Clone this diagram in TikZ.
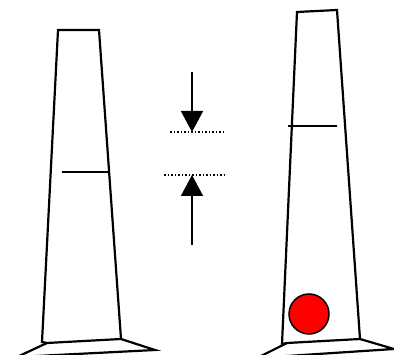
\documentclass[tikz,border=0pt]{standalone}
\usetikzlibrary{arrows.meta}
\begin{document}
\begin{tikzpicture}[x=1pt,y=-1pt,
  tower/.style={line width=2.2pt,line join=miter},
  mark line/.style={line width=1.9pt},
  push/.style={line width=1.7pt,-{Triangle[width=22pt,length=21pt]}},
  level/.style={line width=1.5pt,dotted}]
\useasboundingbox (0,0) rectangle (394,355);
\clip (0,0) rectangle (394,355);
% left tower
\draw[tower] (42,342) -- (58,30) -- (99,30) -- (121,339) -- (47,343) -- cycle;
\draw[tower] (47,343) -- (17,357) -- (155,350) -- (121,339);
\draw[mark line] (62,172) -- (109,172);
% right tower
\draw[tower] (282,344) -- (297,12) -- (337,10) -- (360,339) -- (287,343) -- cycle;
\draw[tower] (287,343) -- (257,358) -- (394,349) -- (360,339);
\draw[mark line] (288,126) -- (337,126);
\draw[line width=1.5pt,fill=red] (309,314) circle (20);
% arrows
\coordinate (a1) at (192,72);
\coordinate (t1) at (192,132);
\coordinate (a2) at (192,245);
\coordinate (t2) at (192,175);
\draw[push] (a1) -- (t1);
\draw[push] (a2) -- (t2);
\draw[level] (170,132) -- (224,132);
\draw[level] (164,175) -- (226,175);
\end{tikzpicture}
\end{document}
